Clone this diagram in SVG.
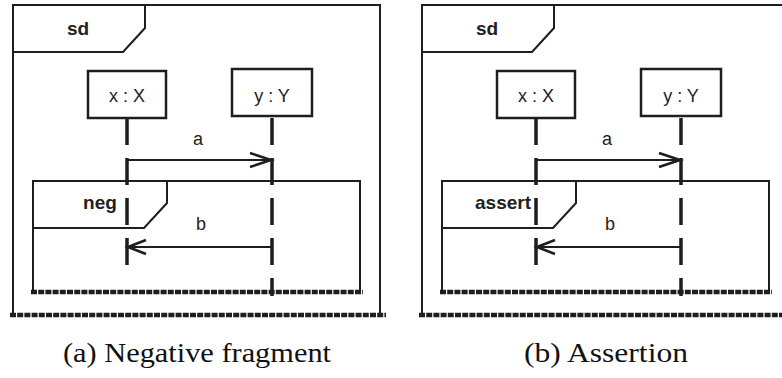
<svg xmlns="http://www.w3.org/2000/svg" width="782" height="378" viewBox="0 0 782 378">
<style>
.ln{fill:none;stroke:#1e1e1e;stroke-width:2;stroke-linejoin:miter}
.box{fill:#fff;stroke:#1e1e1e;stroke-width:2.5}
.life{fill:none;stroke:#1e1e1e;stroke-width:3.5;stroke-dasharray:27 13}
.msg{fill:none;stroke:#1e1e1e;stroke-width:2}
.head{fill:none;stroke:#1e1e1e;stroke-width:2.6;stroke-linejoin:miter}
.end{fill:none;stroke:#1e1e1e;stroke-width:4.5;stroke-dasharray:6 1.2}
.t{font-family:"Liberation Sans",Arial,sans-serif;font-size:18px;fill:#222;text-anchor:middle}
.b{font-family:"Liberation Sans",Arial,sans-serif;font-size:19px;font-weight:bold;fill:#222;text-anchor:middle}
.cap{font-family:"Liberation Serif","Times New Roman",serif;font-size:28px;fill:#111;text-anchor:middle}
</style>
<rect width="782" height="378" fill="#fff"/>
<g id="panel-a">
  <g id="a-frame">
    <path class="ln" d="M13,315 V5 H380 V315"/>
    <path class="ln" d="M13,52 H123 L145,28 V5"/>
    <line class="end" x1="10" y1="315" x2="386" y2="315"/>
    <text class="b" x="78" y="35">sd</text>
  </g>
  <g id="a-x">
    <rect class="box" x="88" y="71" width="78" height="47"/>
    <text class="t" x="127" y="102">x : X</text>
  </g>
  <g id="a-y">
    <rect class="box" x="232" y="69" width="80" height="47"/>
    <text class="t" x="272" y="102">y : Y</text>
  </g>
  <g id="a-neg">
    <path class="ln" d="M33,292 V181 H360 V292"/>
    <path class="ln" d="M33,228 H144 L167,203 V181"/>
    <line class="end" x1="31" y1="292" x2="363" y2="292"/>
    <text class="b" x="100" y="209">neg</text>
  </g>
  <g id="a-connectors">
    <line class="life" x1="127" y1="118" x2="127" y2="266"/>
    <line class="life" x1="272" y1="118" x2="272" y2="296"/>
    <line class="msg" x1="127" y1="160" x2="270" y2="160"/>
    <polyline class="head" points="250,153 271,160 250,167"/>
    <text class="t" x="198" y="145">a</text>
    <line class="msg" x1="129" y1="247" x2="272" y2="247"/>
    <polyline class="head" points="146,240 128,247 146,254"/>
    <text class="t" x="201" y="230">b</text>
  </g>
  <text class="cap" x="197" y="362" textLength="268" lengthAdjust="spacingAndGlyphs">(a) Negative fragment</text>
</g>
<g id="panel-b" transform="translate(409,0)">
  <g id="b-frame">
    <path class="ln" d="M13,315 V5 H380 V315"/>
    <path class="ln" d="M13,52 H123 L145,28 V5"/>
    <line class="end" x1="10" y1="315" x2="386" y2="315"/>
    <text class="b" x="78" y="35">sd</text>
  </g>
  <g id="b-x">
    <rect class="box" x="88" y="71" width="78" height="47"/>
    <text class="t" x="127" y="102">x : X</text>
  </g>
  <g id="b-y">
    <rect class="box" x="232" y="69" width="80" height="47"/>
    <text class="t" x="272" y="102">y : Y</text>
  </g>
  <g id="b-assert">
    <path class="ln" d="M33,292 V181 H360 V292"/>
    <path class="ln" d="M33,228 H144 L167,203 V181"/>
    <line class="end" x1="31" y1="292" x2="363" y2="292"/>
    <text class="b" x="94" y="209">assert</text>
  </g>
  <g id="b-connectors">
    <line class="life" x1="127" y1="118" x2="127" y2="266"/>
    <line class="life" x1="272" y1="118" x2="272" y2="296"/>
    <line class="msg" x1="127" y1="160" x2="270" y2="160"/>
    <polyline class="head" points="250,153 271,160 250,167"/>
    <text class="t" x="198" y="145">a</text>
    <line class="msg" x1="129" y1="247" x2="272" y2="247"/>
    <polyline class="head" points="146,240 128,247 146,254"/>
    <text class="t" x="201" y="230">b</text>
  </g>
  <text class="cap" x="197" y="362" textLength="164" lengthAdjust="spacingAndGlyphs">(b) Assertion</text>
</g>
</svg>
